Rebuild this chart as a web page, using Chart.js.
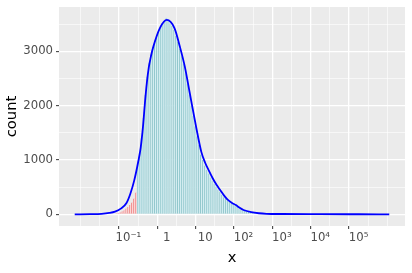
<!DOCTYPE html>
<html>
<head>
<meta charset="utf-8">
<script src="https://cdn.jsdelivr.net/npm/chart.js@4.4.1/dist/chart.umd.min.js"></script>
<style>
  html, body { margin: 0; padding: 0; background: #ffffff; }
</style>
</head>
<body>
<canvas id="hist" width="412" height="273"></canvas>
<script>
// x is on a log10 scale: all positions below are log10(x)
var binStart = -1.35;   // centre of first bin
var binWidth = 0.05;

// red bins (below the cut)
var lowCounts = [12, 18, 28, 40, 55, 75, 105, 135, 170, 220, 290, 400];

// blue bins
var highCounts = [
  950, 1130, 1400, 1780, 2200, 2540, 2780, 2950, 3080, 3200,
  3300, 3400, 3470, 3530, 3570, 3620, 3570, 3520, 3470, 3400,
  3290, 3180, 3050, 2910, 2770, 2600, 2400, 2200, 2000, 1810,
  1620, 1440, 1280, 1100, 1000, 900, 820, 750, 680, 620,
  560, 505, 455, 410, 360, 315, 280, 250, 225, 200,
  182, 162, 138, 112, 92, 74, 62, 52, 43, 36,
  29, 24, 19, 15, 12, 9
];

// frequency polygon
var curveX = [-2.4, -2.0, -1.7, -1.5, -1.35, -1.2, -1.05, -0.95, -0.85, -0.75,
              -0.68, -0.62, -0.57, -0.52, -0.47, -0.41, -0.35, -0.18, 0, 0.2,
              0.34, 0.47, 0.6, 0.77, 0.9, 1.0, 1.1, 1.2, 1.3, 1.4,
              1.5, 1.6, 1.7, 1.8, 1.9, 2.0, 2.2, 2.4, 2.6, 3.0,
              4.0, 5.0, 5.8];
var curveY = [0, 2, 8, 25, 50, 105, 210, 380, 620, 950,
              1230, 1620, 2050, 2420, 2700, 2920, 3090, 3430, 3580, 3430,
              3090, 2720, 2230, 1590, 1150, 950, 800, 660, 540, 440,
              340, 260, 210, 170, 120, 80, 40, 20, 10, 6,
              3, 1, 0];

var xTicks = [-1, 0, 1, 2, 3, 4, 5];
var xTickLabels = ['10\u207B\u00B9', '1', '10', '10\u00B2', '10\u00B3', '10\u2074', '10\u2075'];
var yTicks = [0, 1000, 2000, 3000];

var bars = [], barFill = [], barEdge = [];
lowCounts.concat(highCounts).forEach(function (c, i) {
  bars.push({ x: binStart + i * binWidth, y: c });
  var low = i < lowCounts.length;
  barFill.push(low ? '#fbd8d8' : '#d6eef2');
  barEdge.push(low ? '#ee8e8e' : '#8fc6cb');
});

var curve = curveX.map(function (x, i) { return { x: x, y: curveY[i] }; });

function isMajor(list, c) {
  return !!(c && c.tick) && list.indexOf(c.tick.value) >= 0;
}

var panelBg = {
  id: 'panelBg',
  beforeDraw: function (chart) {
    var a = chart.chartArea, ctx = chart.ctx;
    ctx.save();
    ctx.fillStyle = '#ebebeb';
    ctx.fillRect(a.left, a.top, a.right - a.left, a.bottom - a.top);
    ctx.restore();
  }
};

var tickFont = { family: 'DejaVu Sans', size: 11.7 };
var titleFont = { family: 'DejaVu Sans', size: 14.7 };

var config = {
  type: 'bar',
  data: {
    datasets: [{
      type: 'line',
      data: curve,
      borderColor: '#0000ff',
      borderWidth: 1.8,
      pointRadius: 0,
      cubicInterpolationMode: 'monotone',
      fill: false,
      order: 0
    }, {
      type: 'bar',
      data: bars,
      backgroundColor: barFill,
      borderColor: barEdge,
      borderWidth: { left: 1, right: 0, top: 0, bottom: 0 },
      borderSkipped: false,
      barPercentage: 1.0,
      categoryPercentage: 1.0,
      order: 1
    }]
  },
  options: {
    responsive: false,
    animation: false,
    layout: { padding: { top: 7, right: 7, bottom: 0, left: 0 } },
    plugins: {
      legend: { display: false },
      tooltip: { enabled: false }
    },
    scales: {
      x: {
        type: 'linear',
        min: -2.81,
        max: 6.21,
        offset: false,
        afterBuildTicks: function (s) {
          var t = [];
          for (var v = -2; v <= 6; v += 0.5) t.push({ value: v });
          s.ticks = t;
        },
        afterFit: function (s) {
          s.height = 47;
          s.paddingLeft = 0;
          s.paddingRight = 0;
        },
        border: { display: false },
        grid: {
          color: '#ffffff',
          lineWidth: function (c) { return isMajor(xTicks, c) ? 1.3 : 0.6; },
          tickColor: function (c) { return isMajor(xTicks, c) ? '#333333' : 'rgba(0,0,0,0)'; },
          tickLength: 3,
          tickWidth: 1
        },
        ticks: {
          autoSkip: false,
          maxRotation: 0,
          padding: 2,
          color: '#4d4d4d',
          font: tickFont,
          callback: function (v) {
            var k = xTicks.indexOf(v);
            return k >= 0 ? xTickLabels[k] : '';
          }
        },
        title: {
          display: true,
          text: 'x',
          color: '#000000',
          font: titleFont,
          padding: { top: 0, bottom: 6 }
        }
      },
      y: {
        min: -215,
        max: 3818,
        afterBuildTicks: function (s) {
          var t = [];
          for (var v = 0; v <= 3500; v += 500) t.push({ value: v });
          s.ticks = t;
        },
        afterFit: function (s) {
          s.width = 59;
          s.paddingTop = 0;
          s.paddingBottom = 0;
        },
        border: { display: false },
        grid: {
          color: '#ffffff',
          lineWidth: function (c) { return isMajor(yTicks, c) ? 1.3 : 0.6; },
          tickColor: function (c) { return isMajor(yTicks, c) ? '#333333' : 'rgba(0,0,0,0)'; },
          tickLength: 3,
          tickWidth: 1
        },
        ticks: {
          autoSkip: false,
          padding: 3,
          color: '#4d4d4d',
          font: tickFont,
          callback: function (v) {
            return yTicks.indexOf(v) >= 0 ? String(v) : '';
          }
        },
        title: {
          display: true,
          text: 'count',
          color: '#000000',
          font: titleFont,
          padding: { top: 3, bottom: 0 }
        }
      }
    }
  },
  plugins: [panelBg]
};

window.onload = function () {
  var ctx = document.getElementById('hist').getContext('2d');
  window.histChart = new Chart(ctx, config);
};
</script>
</body>
</html>
